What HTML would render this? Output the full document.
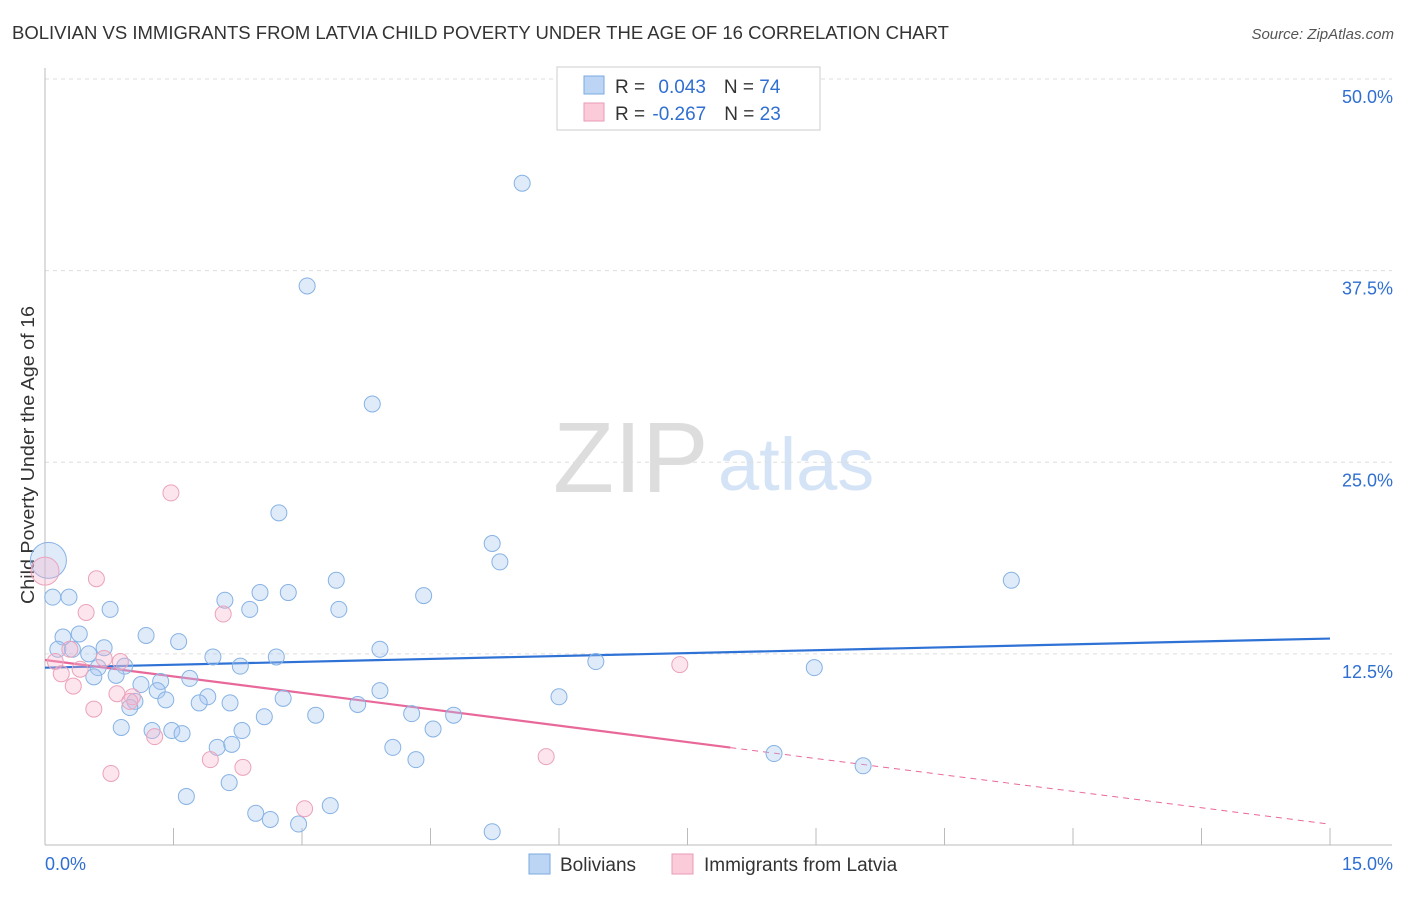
<!DOCTYPE html>
<html><head><meta charset="utf-8"><style>
body{margin:0;background:#fff;font-family:"Liberation Sans",sans-serif;}
svg text{font-family:"Liberation Sans",sans-serif;}
</style></head><body>
<svg id="c" width="1406" height="892" xmlns="http://www.w3.org/2000/svg">
<text x="12" y="39" font-size="18" fill="#333" textLength="937" lengthAdjust="spacingAndGlyphs">BOLIVIAN VS IMMIGRANTS FROM LATVIA CHILD POVERTY UNDER THE AGE OF 16 CORRELATION CHART</text>
<text x="1394" y="39" font-size="15" fill="#555" text-anchor="end" font-style="italic">Source: ZipAtlas.com</text>
<text x="34" y="455" font-size="18" fill="#333" text-anchor="middle" textLength="298" lengthAdjust="spacingAndGlyphs" transform="rotate(-90 34 455)">Child Poverty Under the Age of 16</text>
<g>
<text x="553" y="492" font-size="100" fill="#ddd" font-family="Liberation Serif">ZIP</text>
<text x="718" y="490" font-size="74" fill="#d4e3f5">atlas</text>
</g>
<g id="grid"></g><g id="axes"></g><g id="lines"></g><g id="pts"></g>
<g>
<rect x="557" y="67" width="263" height="63" fill="#fff" stroke="#ccc"/>
<rect x="584" y="76" width="20" height="18" fill="#bcd5f5" stroke="#7aaae0"/>
<rect x="584" y="103" width="20" height="18" fill="#fbcbd9" stroke="#e99ab5"/>
<text x="615" y="93" font-size="19" fill="#333">R = <tspan fill="#2f6fd1" dx="8">0.043</tspan><tspan dx="18">N = </tspan><tspan fill="#2f6fd1">74</tspan></text>
<text x="615" y="120" font-size="19" fill="#333">R = <tspan fill="#2f6fd1" dx="2">-0.267</tspan><tspan dx="18">N = </tspan><tspan fill="#2f6fd1">23</tspan></text>
</g>
<g>
<rect x="529" y="854" width="21" height="20" fill="#bcd5f5" stroke="#7aaae0"/>
<text x="560" y="871" font-size="19" fill="#333">Bolivians</text>
<rect x="672" y="854" width="21" height="20" fill="#fbcbd9" stroke="#e99ab5"/>
<text x="704" y="871" font-size="19" fill="#333">Immigrants from Latvia</text>
</g>
</svg>
<script>
const yTicks=[12.5,25,37.5,50];
const yTickLabels=["12.5%","25.0%","37.5%","50.0%"];
const xTickCount=10;
const blueX=[5.57,3.06,3.82,2.73,5.22,5.31,11.28,3.40,4.42,2.51,2.84,2.10,2.39,3.43,0.76,0.28,0.09,0.21,0.40,1.18,1.56,0.69,0.15,0.32,0.51,1.96,2.70,3.91,6.43,8.98,0.93,0.62,2.28,0.83,0.57,1.35,1.69,1.12,1.31,3.91,6.00,1.90,2.78,1.41,1.05,1.80,2.16,0.99,3.65,4.28,4.77,2.56,3.16,0.89,1.25,1.48,1.60,2.30,4.53,2.01,2.18,4.06,4.33,8.51,9.55,1.65,2.15,3.33,2.46,2.63,2.96,5.22];
const blueY=[43.2,36.5,28.8,21.7,19.7,18.5,17.3,17.3,16.3,16.5,16.5,16.0,15.4,15.4,15.4,16.2,16.2,13.6,13.8,13.7,13.3,12.9,12.8,12.8,12.5,12.3,12.3,12.8,12.0,11.6,11.7,11.6,11.7,11.1,11.0,10.7,10.9,10.5,10.1,10.1,9.7,9.7,9.6,9.5,9.4,9.3,9.3,9.0,9.2,8.6,8.5,8.4,8.5,7.7,7.5,7.5,7.3,7.5,7.6,6.4,6.6,6.4,5.6,6.0,5.2,3.2,4.1,2.6,2.1,1.7,1.4,0.9];
const blueBig=[0.04,18.6];
const pinkX=[0.60,1.47,0.48,2.08,0.12,0.29,0.69,0.88,0.41,0.19,0.33,0.84,1.02,0.57,0.99,1.28,1.93,2.31,0.77,3.03,5.85,7.41];
const pinkY=[17.4,23.0,15.2,15.1,12.0,12.8,12.2,12.0,11.5,11.2,10.4,9.9,9.7,8.9,9.4,7.1,5.6,5.1,4.7,2.4,5.8,11.8];
const pinkBig=[0.0,17.9];
const blueTrend=[11.6,13.5];
const pinkTrend=[12.1,-0.714];
const pinkSolidEnd=8.0;

const X0=45,X1=1330,Y0=845.5,Y50=79;
const sx=v=>X0+(X1-X0)*v/15;
const sy=v=>Y0-(Y0-Y50)*v/50;
const NS="http://www.w3.org/2000/svg";
function mk(p,tag,a){const e=document.createElementNS(NS,tag);for(const k in a)e.setAttribute(k,a[k]);document.getElementById(p).appendChild(e);return e;}
yTicks.forEach((t,i)=>{
 const g=mk('grid','line',{x1:X0,x2:1392,y1:sy(t),y2:sy(t),stroke:'#ddd','stroke-dasharray':'4 4'});
 
 
 const l=mk('axes','text',{x:1393,y:sy(t)+24,'font-size':18,fill:'#2f6fd1','text-anchor':'end'});
 l.textContent=yTickLabels[i];
 
 
});
const ax=mk('axes','line',{x1:X0,x2:1392,y1:845,y2:845,stroke:'#bbb'});


const ay=mk('axes','line',{x1:X0,x2:X0,y1:68,y2:845,stroke:'#bbb'});


for(let i=1;i<=xTickCount;i++){
 const t=mk('axes','line',{x1:sx(i*1.5),x2:sx(i*1.5),y1:828,y2:845,stroke:'#bbb'});
 
 
}
const xl0=mk('axes','text',{x:45,y:870,'font-size':18,fill:'#2f6fd1'});xl0.textContent='0.0%';


const xl1=mk('axes','text',{x:1393,y:870,'font-size':18,fill:'#2f6fd1','text-anchor':'end'});xl1.textContent='15.0%';


function dot(x,y,r,c){
 const e=mk('pts','circle',{cx:sx(x),cy:sy(y),r:r,fill:c[0],stroke:c[1],'stroke-width':1});
 
 
}
const BC=['rgba(165,198,240,0.35)','#86b2e4','bolivian-point'],PC=['rgba(245,180,203,0.35)','#eba2bb','latvia-point'];
dot(blueBig[0],blueBig[1],18,BC);
dot(pinkBig[0],pinkBig[1],14,PC);
blueX.forEach((x,i)=>dot(x,blueY[i],8,BC));
pinkX.forEach((x,i)=>dot(x,pinkY[i],8,PC));
const bl=mk('lines','line',{x1:sx(0),y1:sy(blueTrend[0]),x2:sx(15),y2:sy(blueTrend[1]),stroke:'#2f72d6','stroke-width':2.2});


const pf=x=>pinkTrend[0]+pinkTrend[1]*x;
const pl=mk('lines','line',{x1:sx(0),y1:sy(pf(0)),x2:sx(pinkSolidEnd),y2:sy(pf(pinkSolidEnd)),stroke:'#e8689a','stroke-width':2.2});


const pd=mk('lines','line',{x1:sx(pinkSolidEnd),y1:sy(pf(pinkSolidEnd)),x2:sx(15),y2:sy(pf(15)),stroke:'#e8689a','stroke-width':1,'stroke-dasharray':'6 5'});


</script>
</body></html>
